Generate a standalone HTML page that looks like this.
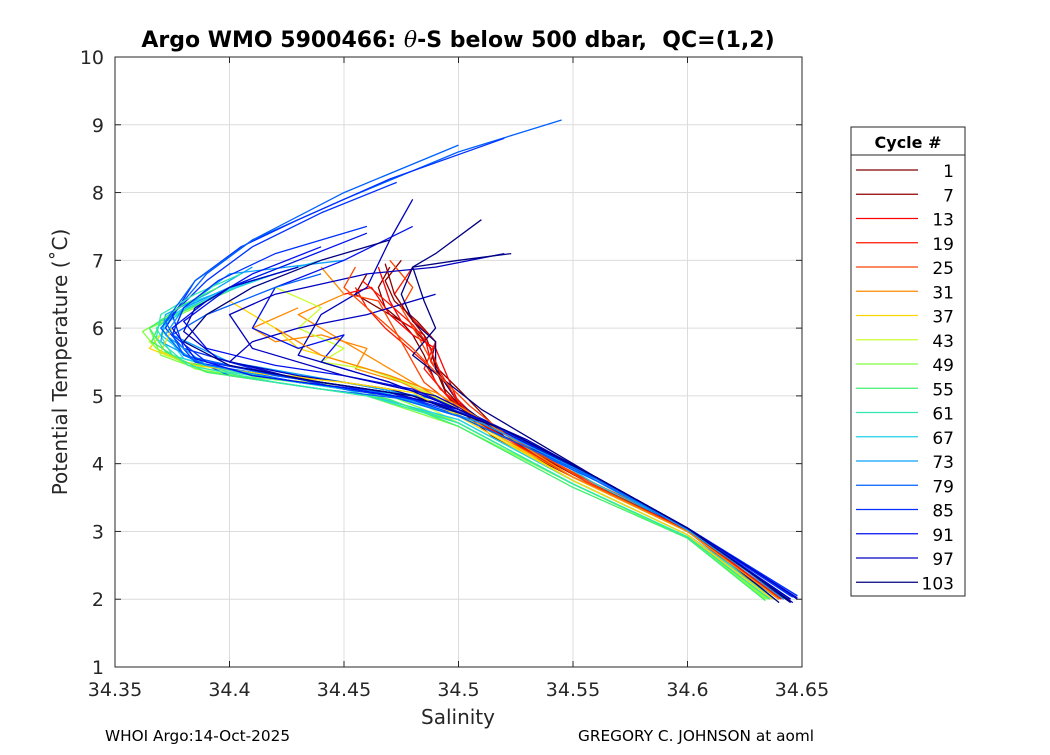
<!DOCTYPE html>
<html><head><meta charset="utf-8"><style>
body{margin:0;background:#fff;}
svg text{font-family:"DejaVu Sans","Liberation Sans",sans-serif;}
</style></head><body>
<svg id="chart" width="1050" height="750" viewBox="0 0 1050 750" xmlns="http://www.w3.org/2000/svg">
<rect x="0" y="0" width="1050" height="750" fill="#fff"/>
<rect x="115" y="57" width="687" height="610" fill="#fff" stroke="none"/>
<g id="grid"></g>
<g id="series"></g>
<rect x="115" y="57" width="687" height="610" fill="none" stroke="#262626" stroke-width="1"/>
<g id="ticks"></g>
<text x="458" y="47" text-anchor="middle" font-size="22" font-weight="bold" fill="#000">Argo WMO 5900466: <tspan font-style="italic" font-weight="normal" font-family="DejaVu Serif, serif">θ</tspan>-S below 500 dbar,&#160; QC=(1,2)</text>
<text x="458" y="724" text-anchor="middle" font-size="20" fill="#262626">Salinity</text>
<text transform="translate(67,362) rotate(-90)" text-anchor="middle" font-size="20" fill="#262626">Potential Temperature (˚C)</text>
<text x="105" y="741" font-size="15.3" fill="#000">WHOI Argo:14-Oct-2025</text>
<text x="578" y="741" font-size="15.3" fill="#000">GREGORY C. JOHNSON at aoml</text>
<g id="legend">
<rect x="851" y="127" width="114" height="469" fill="#fff" stroke="#262626" stroke-width="1"/>
<line x1="851" y1="155" x2="965" y2="155" stroke="#262626" stroke-width="1"/>
<text x="908" y="148" text-anchor="middle" font-size="16" font-weight="bold" fill="#000">Cycle #</text>
</g>
</svg>
<script>
const xTicks=[34.35,34.4,34.45,34.5,34.55,34.6,34.65];
const xTickLabels=["34.35","34.4","34.45","34.5","34.55","34.6","34.65"];
const yTicks=[1,2,3,4,5,6,7,8,9,10];
const legendCycles=[1,7,13,19,25,31,37,43,49,55,61,67,73,79,85,91,97,103];
const legendColors=["#7f0000","#900000","#ff0000","#ff1500","#ff4500","#ff8a00","#ffd700","#c8ff30","#80ff40","#40f070","#30e8b0","#20d0e8","#0aa0ff","#0060ff","#0030ff","#0010f0","#0000c0","#000080"];
const cycles=[1,3,7,10,13,16,19,22,25,28,31,34,37,40,43,46,49,55,61,64,67,70,73,79,82,85,88,91,94,97,100,103,99,76,4,20,26,32,38,52,58,74,80,86,92,95,101];
const sal=[
[34.47,34.465,34.468,34.475,34.48,34.485,34.49,34.5,34.515,34.55,34.6,34.64],
[34.46,34.455,34.47,34.48,34.488,34.49,34.495,34.505,34.52,34.56,34.6,34.64],
[34.475,34.468,34.472,34.482,34.49,34.488,34.5,34.51,34.52,34.555,34.6,34.642],
[34.45,34.462,34.47,34.48,34.49,34.495,34.5,34.515,34.55,34.6,34.64],
[34.465,34.47,34.475,34.485,34.488,34.498,34.51,34.52,34.56,34.6,34.64],
[34.48,34.472,34.478,34.49,34.485,34.495,34.51,34.55,34.6,34.638],
[34.455,34.46,34.468,34.475,34.485,34.492,34.505,34.52,34.555,34.6,34.64],
[34.47,34.48,34.475,34.482,34.49,34.5,34.515,34.55,34.6,34.64],
[34.452,34.465,34.47,34.475,34.48,34.485,34.5,34.52,34.56,34.6,34.64],
[34.44,34.45,34.43,34.445,34.46,34.47,34.48,34.5,34.52,34.55,34.6,34.64],
[34.43,34.41,34.42,34.44,34.46,34.455,34.475,34.5,34.515,34.55,34.6,34.64],
[34.39,34.4,34.42,34.43,34.45,34.47,34.49,34.51,34.55,34.6,34.64],
[34.37,34.365,34.38,34.41,34.44,34.47,34.49,34.51,34.55,34.6,34.635],
[34.42,34.44,34.43,34.45,34.44,34.46,34.48,34.5,34.52,34.55,34.6,34.64],
[34.375,34.365,34.372,34.39,34.42,34.45,34.48,34.5,34.55,34.6,34.635],
[34.4,34.385,34.365,34.37,34.39,34.43,34.47,34.5,34.55,34.6,34.635],
[34.39,34.375,34.362,34.368,34.385,34.42,34.46,34.5,34.55,34.6,34.634],
[34.41,34.39,34.37,34.366,34.38,34.42,34.46,34.5,34.55,34.6,34.636],
[34.43,34.4,34.38,34.368,34.375,34.4,34.45,34.5,34.55,34.6,34.638],
[34.44,34.41,34.385,34.37,34.38,34.41,34.45,34.5,34.55,34.6,34.64],
[34.42,34.395,34.375,34.37,34.385,34.43,34.48,34.52,34.56,34.6,34.64],
[34.41,34.39,34.372,34.37,34.39,34.44,34.48,34.52,34.56,34.6,34.642],
[34.45,34.4,34.38,34.375,34.4,34.45,34.49,34.52,34.56,34.6,34.645],
[34.545,34.5,34.45,34.41,34.39,34.37,34.38,34.42,34.46,34.5,34.56,34.6,34.648],
[34.52,34.47,34.43,34.405,34.385,34.372,34.385,34.43,34.47,34.51,34.56,34.6,34.645],
[34.473,34.44,34.41,34.39,34.375,34.38,34.41,34.45,34.49,34.52,34.56,34.6,34.648],
[34.46,34.43,34.4,34.38,34.39,34.42,34.45,34.48,34.5,34.53,34.56,34.6,34.645],
[34.48,34.45,34.42,34.41,34.43,34.45,34.44,34.47,34.5,34.53,34.56,34.6,34.645],
[34.52,34.49,34.46,34.42,34.4,34.41,34.45,34.49,34.52,34.56,34.6,34.648],
[34.48,34.47,34.46,34.44,34.43,34.45,34.47,34.5,34.53,34.56,34.6,34.646],
[34.51,34.49,34.48,34.475,34.48,34.49,34.49,34.5,34.52,34.56,34.6,34.645],
[34.523,34.5,34.48,34.485,34.49,34.48,34.495,34.51,34.53,34.56,34.6,34.64],
[34.49,34.46,34.43,34.41,34.4,34.43,34.47,34.5,34.53,34.56,34.6,34.645],
[34.44,34.42,34.39,34.375,34.38,34.4,34.44,34.49,34.52,34.56,34.6,34.645],
[34.468,34.472,34.478,34.486,34.49,34.494,34.505,34.52,34.555,34.6,34.64],
[34.458,34.47,34.48,34.487,34.492,34.5,34.512,34.55,34.6,34.641],
[34.455,34.45,34.46,34.47,34.48,34.49,34.505,34.52,34.555,34.6,34.64],
[34.42,34.43,34.44,34.45,34.47,34.49,34.51,34.55,34.6,34.64],
[34.375,34.37,34.385,34.42,34.45,34.48,34.5,34.55,34.6,34.637],
[34.395,34.38,34.365,34.372,34.39,34.43,34.47,34.5,34.55,34.6,34.634],
[34.405,34.385,34.37,34.368,34.382,34.42,34.46,34.5,34.55,34.6,34.636],
[34.43,34.4,34.38,34.372,34.39,34.43,34.47,34.51,34.56,34.6,34.643],
[34.5,34.45,34.41,34.385,34.372,34.38,34.42,34.46,34.5,34.56,34.6,34.647],
[34.46,34.42,34.395,34.38,34.375,34.39,34.43,34.47,34.51,34.56,34.6,34.646],
[34.44,34.41,34.39,34.375,34.385,34.41,34.45,34.49,34.52,34.56,34.6,34.647],
[34.43,34.4,34.385,34.38,34.395,34.43,34.47,34.5,34.53,34.56,34.6,34.648],
[34.47,34.44,34.41,34.39,34.38,34.4,34.44,34.48,34.52,34.56,34.6,34.645]
];
const temp=[
[6.9,6.6,6.3,6.1,5.9,5.6,5.2,4.8,4.4,3.8,3.0,2.0],
[6.8,6.5,6.2,6.0,5.7,5.4,5.0,4.7,4.35,3.7,3.05,2.0],
[7.0,6.7,6.4,6.1,5.8,5.5,5.1,4.75,4.4,3.75,3.0,2.0],
[6.5,6.6,6.2,5.9,5.7,5.3,4.9,4.5,3.8,3.05,2.0],
[6.9,6.4,6.1,5.9,5.5,5.0,4.6,4.35,3.7,3.05,2.02],
[6.9,6.5,6.2,5.8,5.4,5.0,4.6,3.8,3.0,2.0],
[6.6,6.3,6.0,5.8,5.5,5.1,4.75,4.4,3.75,3.05,2.0],
[7.0,6.6,6.3,5.9,5.4,4.9,4.5,3.8,3.0,2.0],
[6.5,6.4,6.1,5.8,5.5,5.2,4.8,4.4,3.7,3.05,2.0],
[6.9,6.5,6.2,5.9,5.6,5.4,5.2,4.8,4.4,3.8,3.0,2.0],
[6.3,6.0,5.8,5.9,5.7,5.4,5.2,4.8,4.45,3.8,3.0,2.0],
[6.2,6.4,6.0,5.7,5.5,5.3,5.0,4.6,3.8,3.0,2.0],
[5.9,5.7,5.5,5.35,5.25,5.1,4.9,4.55,3.75,2.95,2.0],
[6.6,6.3,6.0,5.7,5.5,5.4,5.15,4.8,4.4,3.8,3.0,2.0],
[6.0,5.8,5.6,5.4,5.25,5.15,4.95,4.6,3.7,2.9,2.0],
[6.6,6.3,6.0,5.6,5.35,5.2,5.0,4.6,3.7,2.9,2.0],
[6.4,6.2,5.95,5.7,5.4,5.2,5.0,4.55,3.7,2.9,2.0],
[6.7,6.4,6.1,5.8,5.5,5.25,5.05,4.6,3.7,2.92,2.0],
[7.0,6.6,6.3,6.0,5.6,5.35,5.1,4.65,3.75,2.95,2.0],
[7.0,6.7,6.4,6.0,5.55,5.3,5.1,4.65,3.75,2.95,2.0],
[6.8,6.5,6.2,5.9,5.5,5.2,5.0,4.5,3.7,3.0,2.0],
[6.9,6.5,6.2,5.8,5.45,5.2,5.0,4.5,3.75,3.0,2.0],
[7.0,6.8,6.3,5.9,5.5,5.2,4.95,4.5,3.75,3.0,2.0],
[9.07,8.6,7.9,7.3,6.8,6.0,5.6,5.3,5.1,4.7,3.75,3.05,2.05],
[8.8,8.2,7.6,7.2,6.7,6.0,5.5,5.2,5.05,4.6,3.8,3.05,2.05],
[8.15,7.7,7.2,6.7,6.2,5.7,5.4,5.1,4.9,4.5,3.8,3.05,2.05],
[7.4,7.0,6.6,6.1,5.7,5.45,5.3,5.1,4.8,4.3,3.8,3.05,2.05],
[7.5,7.0,6.6,6.0,5.7,5.9,5.5,5.2,4.8,4.3,3.8,3.05,2.0],
[7.1,6.9,6.8,6.5,6.2,5.7,5.3,5.0,4.5,3.8,3.05,2.0],
[7.9,7.3,6.6,6.2,5.6,5.4,5.2,4.8,4.3,3.8,3.05,1.95],
[7.6,7.1,6.9,6.5,6.1,5.8,5.4,4.9,4.4,3.8,3.05,1.95],
[7.1,7.0,6.9,6.4,6.0,5.6,5.2,4.8,4.4,3.8,3.05,1.95],
[6.5,6.2,6.0,5.8,5.5,5.3,5.1,4.8,4.3,3.8,3.0,2.0],
[6.8,6.6,6.2,5.9,5.6,5.3,5.1,4.9,4.5,3.8,3.05,2.05],
[6.95,6.5,6.2,5.85,5.5,5.1,4.7,4.4,3.75,3.02,2.0],
[6.7,6.35,6.05,5.75,5.35,4.9,4.55,3.8,3.03,2.0],
[6.9,6.6,6.3,6.0,5.7,5.35,4.85,4.45,3.75,3.0,2.0],
[6.0,5.8,5.6,5.5,5.3,5.05,4.65,3.8,3.0,2.0],
[6.0,5.65,5.45,5.3,5.2,5.05,4.7,3.75,2.95,2.0],
[6.6,6.35,6.0,5.65,5.35,5.15,4.95,4.55,3.65,2.9,1.98],
[6.8,6.5,6.2,5.85,5.45,5.2,5.0,4.6,3.7,2.92,2.0],
[6.9,6.6,6.3,5.9,5.45,5.2,5.02,4.6,3.78,3.02,2.02],
[8.7,8.0,7.3,6.7,6.1,5.6,5.3,5.1,4.7,3.78,3.04,2.04],
[7.5,7.1,6.7,6.3,5.9,5.5,5.25,5.05,4.65,3.8,3.05,2.03],
[7.2,6.8,6.4,6.0,5.55,5.3,5.12,4.9,4.5,3.8,3.05,2.04],
[6.9,6.6,6.3,5.95,5.55,5.25,5.05,4.8,4.35,3.8,3.05,2.02],
[7.3,7.0,6.6,6.2,5.8,5.45,5.2,5.0,4.5,3.8,3.05,1.97]
];
const NS="http://www.w3.org/2000/svg";
const X0=115,X1=802,Y0=667,Y1=57;
function xs(v){return X0+(v-34.35)/(34.65-34.35)*(X1-X0);}
function ys(v){return Y0-(v-1)/(10-1)*(Y0-Y1);}
function mk(t,a,p){const e=document.createElementNS(NS,t);for(const k in a)e.setAttribute(k,a[k]);p.appendChild(e);return e;}
function colorFor(c){let i=Math.round((c-1)/6);i=Math.max(0,Math.min(legendColors.length-1,i));return legendColors[i];}
const grid=document.getElementById('grid'),ticks=document.getElementById('ticks'),series=document.getElementById('series'),legend=document.getElementById('legend');
xTicks.forEach((v,i)=>{const x=xs(v);
 const g=mk('line',{x1:x,x2:x,y1:Y1,y2:Y0,stroke:'#dcdcdc','stroke-width':1},grid);
 
 
 mk('line',{x1:x,x2:x,y1:Y0,y2:Y0-6,stroke:'#262626'},ticks);
 mk('line',{x1:x,x2:x,y1:Y1,y2:Y1+6,stroke:'#262626'},ticks);
 const t=mk('text',{x:x,y:Y0+29,'text-anchor':'middle','font-size':19,fill:'#262626'},ticks);t.textContent=xTickLabels[i];
 
 });
yTicks.forEach(v=>{const y=ys(v);
 const g=mk('line',{x1:X0,x2:X1,y1:y,y2:y,stroke:'#dcdcdc','stroke-width':1},grid);
 
 
 mk('line',{x1:X0,x2:X0+6,y1:y,y2:y,stroke:'#262626'},ticks);
 mk('line',{x1:X1,x2:X1-6,y1:y,y2:y,stroke:'#262626'},ticks);
 const t=mk('text',{x:X0-11,y:y+7,'text-anchor':'end','font-size':19,fill:'#262626'},ticks);t.textContent=String(v);
 
 });
sal.forEach((s,i)=>{const pts=s.map((v,j)=>xs(v).toFixed(1)+','+ys(temp[i][j]).toFixed(1)).join(' ');
 const p=mk('polyline',{points:pts,fill:'none',stroke:colorFor(cycles[i]),'stroke-width':1.3,'stroke-linejoin':'round'},series);
 
 });
legendCycles.forEach((c,i)=>{const y=170+i*24.25;
 const g=mk('g',{},legend);
 
 
 mk('line',{x1:856,x2:918,y1:y,y2:y,stroke:legendColors[i],'stroke-width':1.2},g);
 const t=mk('text',{x:954,y:y+7,'text-anchor':'end','font-size':17,fill:'#000'},g);t.textContent=String(c);});
</script>
</body></html>
